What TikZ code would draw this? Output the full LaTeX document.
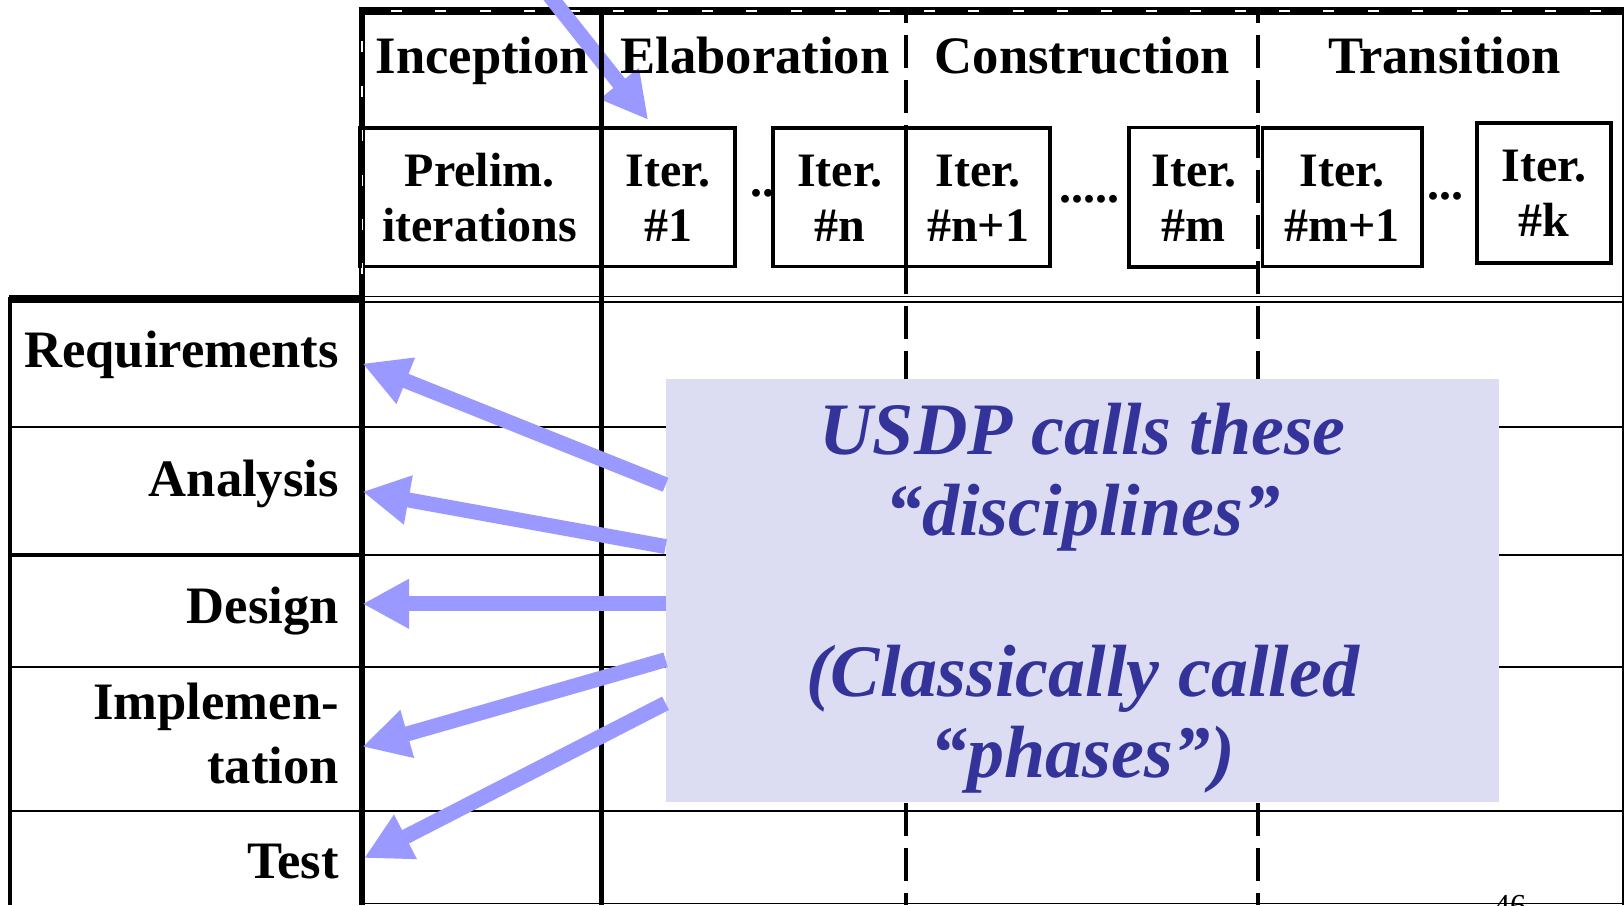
\documentclass[tikz,border=0pt]{standalone}
\usepackage{fontspec}
\setmainfont{Liberation Serif}
\usetikzlibrary{arrows.meta,fit}
\definecolor{arrowblue}{RGB}{153,153,255}
\definecolor{notefill}{RGB}{220,220,242}
\definecolor{noteink}{RGB}{51,51,153}
% stacked lines: centred / right-aligned, baseline = first line
\newcommand\cstack[1]{\vtop{\halign{\hfil##\hfil\cr#1\crcr}}}
\newcommand\rstack[1]{\vtop{\halign{\hfil##\cr#1\crcr}}}

\begin{document}
\begin{tikzpicture}[x=0.51786pt,y=-0.51786pt,
  phasehead/.style={font=\bfseries\fontsize{26.3}{28}\selectfont, inner sep=0pt, anchor=base},
  iterbox/.style={draw, line width=1.8pt, inner sep=0pt},
  boxedge/.style={line width=1.8pt},
  itertext/.style={font=\bfseries\fontsize{24}{27.65}\selectfont, inner sep=0pt, anchor=base},
  ellip/.style={font=\bfseries\fontsize{24}{24}\selectfont, inner sep=0pt, anchor=base},
  discipline/.style={font=\bfseries\fontsize{26.3}{31.6}\selectfont, inner sep=0pt, anchor=base east},
  rule/.style={line width=0.8pt},
  phaseline/.style={line width=2.2pt, dash pattern=on 16.6pt off 6pt, dash phase=10.8pt},
  arr/.style={draw=arrowblue, line width=7.5pt, -{Triangle[length=23.3pt,width=23.3pt]}},
  notetext/.style={font=\bfseries\itshape\fontsize{37}{40.4}\selectfont, text=noteink, inner sep=0pt, anchor=base}
]
\useasboundingbox (0,0) rectangle (1568,874);
\clip (0,0) rectangle (1568,874);

% ---- grid rules of the workflow area
\foreach \yy in {412,536,644,783,872.5} \draw[rule] (349.5,\yy) -- (1566.5,\yy);
\draw[rule] (349.5,286.3) -- (1566.5,286.3);
\draw[rule] (349.5,291.5) -- (1566.5,291.5);
\draw[rule] (1566.8,6.8) -- (1566.8,874);

% ---- discipline column
\draw[line width=4pt] (8.7,288.7) -- (349.5,288.7);
\draw[line width=2pt] (10,286.7) -- (10,874);
\draw[rule] (10,412) -- (349.5,412);
\draw[line width=1.8pt] (10,536) -- (349.5,536);
\draw[rule] (10,644) -- (349.5,644);
\draw[rule] (10,783) -- (349.5,783);

% ---- top band with white dashes
\draw[line width=3.9pt] (346.2,10.6) -- (1568,10.6);
\draw[white, line width=1.4pt, dash pattern=on 5.5pt off 16.7pt, dash phase=7.7pt] (349.5,10.6) -- (1568,10.6);

% ---- iteration boxes
\node[iterbox, fit={(349.5,123.3) (580.8,257.5)}] (prelim) {};
\node[iterbox, fit={(580.8,123.3) (709.7,257.5)}] (it1) {};
\node[iterbox, fit={(746.6,123.3) (874.8,257.5)}] (itn) {};
\node[iterbox, fit={(874.8,123.3) (1014,257.5)}] (itn1) {};
\node[inner sep=0pt, fit={(1090.6,123.3) (1214.8,257.5)}] (itm) {};
\draw[boxedge] (itm.north east) -- (itm.north west) -- (itm.south west) -- (itm.south east);
\node[iterbox, fit={(1219,123.3) (1372.8,257.5)}] (itm1) {};
\node[iterbox, fit={(1426,118.5) (1555.5,254)}] (itk) {};

% ---- arrow pointing at the first iteration
\coordinate (topsrc) at (526,-10);
\draw[arr] (topsrc) -- ([shift={(46.8,-5.8)}]it1.north west);

% ---- phase boundaries
\draw[line width=2.3pt] (580.8,10.6) -- (580.8,874);
\draw[phaseline] (875,10.6) -- (875,874);
\draw[phaseline] (1214.8,10.6) -- (1214.8,874);

% ---- left border of the phase table
\draw[line width=3.4pt] (349.5,6.8) -- (349.5,874);
\draw[white, line width=1.4pt, dash pattern=on 5.5pt off 16.7pt, dash phase=7pt] (349.5,10.6) -- (349.5,285);
\draw[boxedge] (prelim.north west) -- (prelim.south west);

% ---- iteration labels
\node[itertext] (prelimtext) at (463,180) {\cstack{Prelim.\cr iterations}};
\node[itertext] (it1text) at (it1.center |- 0,180) {\cstack{Iter.\cr \#1}};
\node[itertext] (itntext) at (itn.center |- 0,180) {\cstack{Iter.\cr \#n}};
\node[itertext] (itn1text) at (itn1.center |- 0,180) {\cstack{Iter.\cr \#n+1}};
\node[itertext] (itmtext) at (itm.center |- 0,180) {\cstack{Iter.\cr \#m}};
\node[itertext] (itm1text) at (itm1.center |- 0,180) {\cstack{Iter.\cr \#m+1}};
\node[itertext] (itktext) at (itk.center |- 0,175.2) {\cstack{Iter.\cr \#k}};
\node[ellip] (gap1) at (736,190) {..};
\node[ellip] (gap2) at (1052,196) {.....};
\node[ellip] (gap3) at (1396,193) {...};

% ---- phase names
\node[phasehead] (inception) at (465.8,71) {Inception};
\node[phasehead] (elaboration) at (729,71) {Elaboration};
\node[phasehead] (construction) at (1045,71) {Construction};
\node[phasehead] (transition) at (1394.7,71) {Transition};

% ---- discipline names
\node[discipline] (req) at (327.5,355) {Requirements};
\node[discipline] (ana) at (327.5,479.5) {Analysis};
\node[discipline] (des) at (327.5,601.6) {Design};
\node[discipline] (imp) at (327.5,695) {\rstack{Implemen-\cr tation}};
\node[discipline] (tst) at (327.5,848) {Test};

% ---- annotation box
\node[fill=notefill, inner sep=0pt, fit={(643,366) (1447.6,774)}] (note) {};
\node[notetext] (notelines) at (note.center |- 0,438.6)
  {\cstack{USDP calls these\cr “disciplines”\cr\cr (Classically called\cr “phases”)}};

% ---- arrows from the annotation to the disciplines
\coordinate (reqtip) at (350,351);
\coordinate (anatip) at (350,474.7);
\coordinate (destip) at (350,583);
\coordinate (imptip) at (350,721);
\coordinate (tsttip) at (351.5,828.5);
\draw[arr] (note.west |- 0,468) -- (reqtip);
\draw[arr] (note.west |- 0,527.7) -- (anatip);
\draw[arr] (note.west |- 0,583) -- (destip);
\draw[arr] (note.west |- 0,637) -- (imptip);
\draw[arr] (note.west |- 0,679) -- (tsttip);

% ---- page number
\node[anchor=north, inner sep=0pt, font=\fontsize{16}{16}\selectfont] (pagenum) at (1458,864) {46};
\end{tikzpicture}
\end{document}
